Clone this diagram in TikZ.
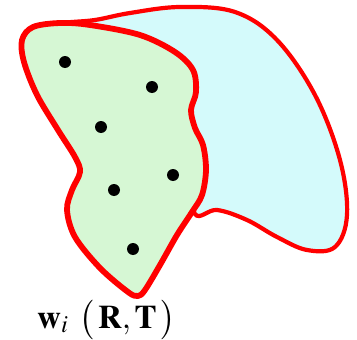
\documentclass[tikz,border=0pt]{standalone}
\usepackage{mathptmx}
\usepackage{xcolor}
\usepackage{tikz}
\definecolor{mint}{HTML}{D6F7D4}
\definecolor{ice}{HTML}{D4FAFB}
\definecolor{rim}{HTML}{FF0000}

\begin{document}
\begin{tikzpicture}[
  x=1pt, y=-1pt,
  outer/.style={draw=rim, line width=4.2pt, fill=ice, line join=round},
  inner/.style={draw=rim, line width=5.8pt, fill=mint, line join=round},
  dot/.style={circle, fill=black, inner sep=0pt, minimum size=12pt},
  lbl/.style={inner sep=0pt, anchor=base west, font=\fontsize{33}{38}\selectfont},
]
\useasboundingbox (0,0) rectangle (357,340);
% ---------------- outer region
\draw[outer] plot[smooth cycle, tension=0.6] coordinates {
  (60,24) (95,20) (130,13) (180,7) (235,12) (277,40) (315,95) (340,160)
  (347,215) (335,247) (307,250) (277,237) (247,220) (217,210)
  (195,214) (190,170) (190,110) (150,45) (100,32)};
% ---------------- inner region
\draw[inner] plot[smooth cycle, tension=0.55] coordinates {
  (90,25) (140,35) (175,52) (193,70) (196,92) (191,110) (195,128)
  (203,145) (206,170) (202,195) (192,212) (177,235) (160,265)
  (145,290) (138,296) (128,292) (100,268) (75,237) (67,210) (72,190)
  (80,172) (75,157) (58,130) (37,95) (24,62) (22,40) (33,27) (60,23)};
% ---------------- points
\foreach \p [count=\i] in {(65,62),(152,87),(101,127),(173,175),(114,190),(133,249)}
  {\node[dot] (d\i) at \p {};}
\node[lbl] (w) at (37,328) {$\mathbf{w}_i\;\left(\vrule height 17pt depth 13pt width 0pt\,\mathbf{R},\mathbf{T}\,\right)$};
\end{tikzpicture}
\end{document}
